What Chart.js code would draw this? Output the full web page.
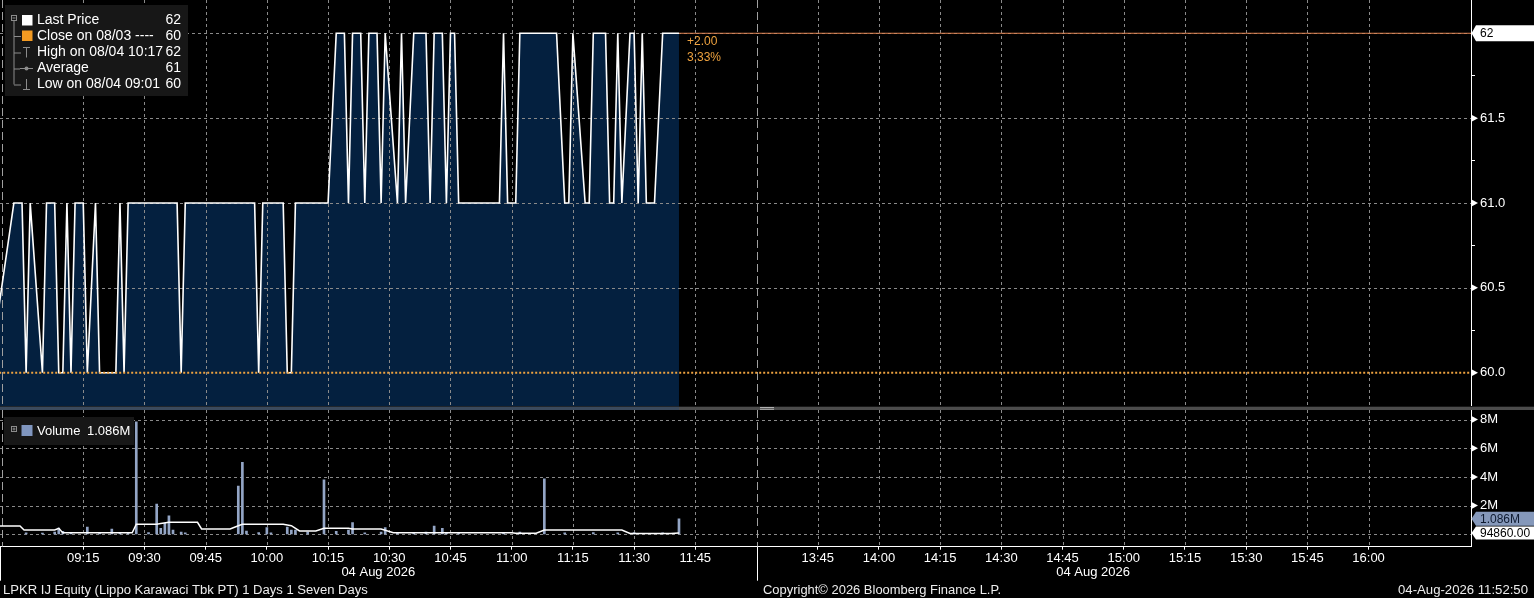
<!DOCTYPE html>
<html><head><meta charset="utf-8">
<script src="https://cdn.jsdelivr.net/npm/chart.js"></script>
<style>
html,body{margin:0;padding:0;background:#000;overflow:hidden;width:1534px;height:598px}
canvas{position:absolute;left:0;display:block}
#priceCanvas{top:0}
#volCanvas{top:406px}
</style></head><body>
<canvas id="priceCanvas" width="1534" height="406"></canvas>
<canvas id="volCanvas" width="1534" height="192"></canvas>
<script>
// ================= DATA =================
// time = trading minutes after 09:00 (lunch break 12:00-13:30 removed)
const PRICE_TIMES = [-8,-2,0,1,2,5,6,8,9,10,11,12,13,15,16,18,19,23,24,25,26,38,39,40,57,58,59,64,65,66,67,75,77,79,80,81,83,84,85,87,88,89,92,93,94,96,99,100,101,103,104,105,106,107,117,118,119,121,122,131,133,134,135,138,139,140,143,144,145,146,147,149,150,151,152,153,155,157,161];
const PRICE_VALUES = [60,61,61,60,61,60,61,61,60,60,61,60,61,61,60,61,60,60,61,60,61,61,60,61,61,60,61,61,60,60,61,61,62,62,61,62,62,61,62,62,61,62,61,62,61,62,62,61,62,62,61,62,62,61,61,62,61,61,62,62,61,61,62,61,61,62,62,61,61,62,61,62,62,61,62,61,61,62,62];

const VOLUME_TIMES = [1,5,8,9,10,12,16,19,22,24,26,28,31,33,34,35,36,37,39,40,53,54,55,58,60,61,65,66,67,70,74,77,80,81,84,88,89,92,96,99,101,103,104,107,118,122,128,133,140,146,150,157,161];
const VOLUME_M = [0.1,0.08,0.15,0.44,0.2,0.1,0.51,0.08,0.37,0.1,0.12,7.85,0.12,2.11,0.42,0.77,1.28,0.3,0.15,0.1,3.37,5.02,0.23,0.12,0.46,0.1,0.51,0.3,0.3,0.15,3.79,0.2,0.3,0.81,0.1,0.15,0.46,0.1,0.12,0.15,0.58,0.42,0.1,0.12,0.1,0.15,3.86,0.1,0.12,0.1,0.12,0.1,1.086];

const VOL_LINE_TIMES = [-8,-0.5,0.5,8,9,10,27,28,33,34,36,43,44,51,53,54,64,66,68,72,74,80,81,88,91,120,121,126,128,147,149,159,161];
const VOL_LINE_M = [0.58,0.58,0.30,0.30,0.42,0.11,0.11,0.70,0.70,0.75,0.84,0.84,0.37,0.37,0.60,0.70,0.70,0.60,0.23,0.23,0.42,0.42,0.37,0.37,0.11,0.11,0.07,0.07,0.30,0.30,0.06,0.06,0.09486];

const TIME_TICKS = [15,30,45,60,75,90,105,120,135,150,165,195,210,225,240,255,270,285,300,315,330];
const TIME_LABELS = ['09:15','09:30','09:45','10:00','10:15','10:30','10:45','11:00','11:15','11:30','11:45','13:45','14:00','14:15','14:30','14:45','15:00','15:15','15:30','15:45','16:00'];
const SESSION_LINES = [-5, 180];
const SESSION_END = 345;

const PRICE_TICKS = [60,60.25,60.5,60.75,61,61.25,61.5,61.75,62];
const PRICE_LABELS = ['60.0','','60.5','','61.0','','61.5','',''];
const PRICE_GRID = [60.5,61,61.5,62];

const VOL_TICKS = [0,1,2,3,4,5,6,7,8];
const VOL_LABELS = ['','','2M','','4M','','6M','','8M'];
const VOL_GRID = [0,2,4,6,8];

const PREV_CLOSE = 60;
const LAST_PRICE = 62;
const LAST_VOLUME_TEXT = '1.086M';
const VOL_AVG_TEXT = '94860.00';

const LEGEND_LABELS = ['Last Price','Close on 08/03 ----','High on 08/04 10:17','Average','Low on 08/04 09:01'];
const LEGEND_VALUES = ['62','60','62','61','60'];
const DATE_LABEL = '04 Aug 2026';
const FOOTER_LEFT = 'LPKR IJ Equity (Lippo Karawaci Tbk PT) 1 Days 1 Seven Days';
const FOOTER_MID = 'Copyright\u00A9 2026 Bloomberg Finance L.P.';
const FOOTER_RIGHT = '04-Aug-2026 11:52:50';

// ================= STYLE / LAYOUT =================
const W = 1534;
const AXIS_W = 63;
const X_MIN = -5.4, X_MAX = 355.1;
const Y_MIN = 59.804, Y_MAX = 62.196;
const VOL_MIN = -0.865, VOL_MAX = 8.668;
const FONT = '"Liberation Sans", Arial, sans-serif';
const NAVY = '#04203f';
const ORANGE = '#eea23f';
const LASTLINE = '#de8250';
const GRID = '#8a8a8a';
const SESSION = '#a0a0a0';
const VOL_BLUE = '#93a5c5';

Chart.defaults.font.family = FONT;
Chart.defaults.font.size = 13;
Chart.defaults.color = '#ffffff';

const pricePts = PRICE_TIMES.map((t,i)=>({x:t,y:PRICE_VALUES[i]}));
const lastT = PRICE_TIMES[PRICE_TIMES.length-1];
const closePts = [{x:X_MIN-10,y:PREV_CLOSE},{x:X_MAX+10,y:PREV_CLOSE}];
const lastPts = [{x:lastT,y:LAST_PRICE},{x:X_MAX+10,y:LAST_PRICE}];
const volPts = VOLUME_TIMES.map((t,i)=>({x:t,y:VOLUME_M[i]}));
const volLinePts = VOL_LINE_TIMES.map((t,i)=>({x:t,y:VOL_LINE_M[i]}));

function drawGrid(chart, yVals){
  const {ctx, chartArea:a, scales:{x,y}} = chart;
  ctx.save();
  ctx.beginPath(); ctx.rect(a.left,a.top,a.right-a.left,a.bottom-a.top); ctx.clip();
  ctx.strokeStyle = GRID; ctx.lineWidth = 1; ctx.setLineDash([3,3]);
  ctx.beginPath();
  TIME_TICKS.forEach(v=>{const px=Math.round(x.getPixelForValue(v))+0.5; ctx.moveTo(px,a.top); ctx.lineTo(px,a.bottom);});
  yVals.forEach(v=>{const py=Math.round(y.getPixelForValue(v))+0.5; ctx.moveTo(a.left,py); ctx.lineTo(a.right,py);});
  ctx.stroke();
  ctx.strokeStyle = SESSION; ctx.setLineDash([8,4]);
  ctx.beginPath();
  SESSION_LINES.forEach(v=>{const px=Math.round(x.getPixelForValue(v))+0.5; ctx.moveTo(px,a.top); ctx.lineTo(px,a.bottom);});
  ctx.stroke();
  ctx.restore();
}
function triangle(ctx, x0, y){
  ctx.beginPath(); ctx.moveTo(x0+0.5,y-3.5); ctx.lineTo(x0+7,y); ctx.lineTo(x0+0.5,y+3.5); ctx.closePath();
  ctx.fillStyle='#ffffff'; ctx.fill();
}
function pointerBox(ctx, x0, y, h, bg, text, color){
  ctx.beginPath(); ctx.moveTo(x0+0.5,y); ctx.lineTo(x0+5,y-h/2); ctx.lineTo(W,y-h/2); ctx.lineTo(W,y+h/2); ctx.lineTo(x0+5,y+h/2); ctx.closePath();
  ctx.fillStyle=bg; ctx.fill();
  ctx.fillStyle=color; ctx.font='12px '+FONT; ctx.textAlign='left'; ctx.textBaseline='middle';
  ctx.fillText(text, x0+9, y+0.5);
}
function fitText(ctx, text, x, y, width, align, color){
  let size = 13;
  ctx.font = size+'px '+FONT;
  const w = ctx.measureText(text).width;
  size = Math.max(10, Math.min(15, size*width/w));
  ctx.font = size.toFixed(2)+'px '+FONT;
  ctx.fillStyle = color; ctx.textAlign = align; ctx.textBaseline='middle';
  ctx.fillText(text, x, y);
}

const pricePlugin = {
  id:'pricePlugin',
  beforeDatasetDraw(chart, args){
    if (args.index === 1) drawGrid(chart, PRICE_GRID);
  },
  afterDraw(chart){
    const {ctx, chartArea:a, scales:{x,y}} = chart;
    ctx.save();
    // legend box
    ctx.fillStyle = '#171717';
    ctx.fillRect(5,5,183,91);
    const rows = [20.5,36,52.5,68.5,84.5];
    ctx.strokeStyle = '#8c8c8c'; ctx.lineWidth = 1;
    ctx.strokeRect(11.5,15.5,5,5);
    ctx.beginPath(); ctx.moveTo(12.5,18); ctx.lineTo(15.5,18);
    ctx.moveTo(14,21); ctx.lineTo(14,rows[4]);
    for (let i=1;i<5;i++){ ctx.moveTo(14,rows[i]+0.5); ctx.lineTo(i===3?20:21,rows[i]+0.5); }
    ctx.moveTo(23,47.5); ctx.lineTo(30,47.5); ctx.moveTo(26.5,47.5); ctx.lineTo(26.5,57.5);
    ctx.moveTo(20,68.5); ctx.lineTo(33,68.5);
    ctx.moveTo(26.5,79); ctx.lineTo(26.5,89.5); ctx.moveTo(23,89.5); ctx.lineTo(30,89.5);
    ctx.stroke();
    ctx.fillStyle='#8c8c8c'; ctx.beginPath(); ctx.arc(26.5,68.5,2,0,Math.PI*2); ctx.fill();
    ctx.fillStyle='#ffffff'; ctx.fillRect(22,15,10.5,10.5);
    ctx.fillStyle='#f39a22'; ctx.fillRect(22,30.5,10.5,10.5);
    ctx.font='14px '+FONT; ctx.textBaseline='middle';
    LEGEND_LABELS.forEach((t,i)=>{
      ctx.fillStyle='#ffffff'; ctx.textAlign='left'; ctx.fillText(t,37,rows[i]);
      ctx.textAlign='right'; ctx.fillText(LEGEND_VALUES[i],181,rows[i]);
    });
    const lx = x.getPixelForValue(lastT);
    const ly = y.getPixelForValue(LAST_PRICE);
    const chg = LAST_PRICE - PREV_CLOSE;
    ctx.font='12px '+FONT; ctx.fillStyle=ORANGE; ctx.textAlign='left';
    ctx.fillText((chg>=0?'+':'')+chg.toFixed(2), lx+8, ly+8.5);
    ctx.fillText((chg/PREV_CLOSE*100).toFixed(2)+'%', lx+8, ly+24);
    PRICE_TICKS.forEach((v,i)=>{ if (PRICE_LABELS[i]) triangle(ctx, a.right, y.getPixelForValue(v)); });
    pointerBox(ctx, a.right, ly, 16, '#ffffff', String(LAST_PRICE), '#000000');
    ctx.restore();
  }
};

new Chart(document.getElementById('priceCanvas'), {
  type:'line',
  data:{datasets:[
    {data:pricePts, borderWidth:0, borderColor:'rgba(0,0,0,0)', backgroundColor:NAVY, fill:'start', pointRadius:0, tension:0, order:4},
    {data:pricePts, borderColor:'#ffffff', borderWidth:1.6, fill:false, pointRadius:0, tension:0, order:3},
    {data:closePts, borderColor:ORANGE, borderDash:[2,2], borderWidth:2, fill:false, pointRadius:0, order:1},
    {data:lastPts, borderColor:LASTLINE, borderWidth:1, fill:false, pointRadius:0, order:2}
  ]},
  options:{
    responsive:false, animation:false, events:[],
    layout:{padding:0, autoPadding:false},
    plugins:{legend:{display:false}, tooltip:{enabled:false}},
    scales:{
      x:{type:'linear', min:X_MIN, max:X_MAX, display:false, offset:false},
      y:{type:'linear', position:'right', min:Y_MIN, max:Y_MAX,
        afterBuildTicks:s=>{s.ticks = PRICE_TICKS.map(v=>({value:v}));},
        afterFit:s=>{s.width = AXIS_W; s.paddingTop=0; s.paddingBottom=0;},
        grid:{drawOnChartArea:false, drawTicks:true, tickLength:4, tickWidth:1,
          tickColor:c=>(c.tick && PRICE_LABELS[c.index]==='' && c.tick.value!==LAST_PRICE) ? '#ffffff' : 'rgba(0,0,0,0)'},
        border:{display:true, color:'#ffffff', width:1},
        ticks:{callback:(v,i)=>PRICE_LABELS[i], padding:5, color:'#ffffff', font:{size:13}}
      }
    }
  },
  plugins:[pricePlugin]
});

const volPlugin = {
  id:'volPlugin',
  beforeDatasetsDraw(chart){ drawGrid(chart, VOL_GRID); },
  afterDraw(chart){
    const {ctx, chartArea:a, scales:{x,y}} = chart;
    ctx.save();
    ctx.fillStyle='#4c4c4c'; ctx.fillRect(0,0.7,W,3.3);
    ctx.fillStyle='#3b4a5d'; ctx.fillRect(0,0.7,x.getPixelForValue(lastT),3.3);
    ctx.strokeStyle='#b0b0b0'; ctx.lineWidth=1;
    ctx.beginPath(); ctx.moveTo(760,1.5); ctx.lineTo(774,1.5); ctx.moveTo(760,3.3); ctx.lineTo(774,3.3); ctx.stroke();
    ctx.fillStyle='#171717'; ctx.fillRect(4,11,130,28);
    ctx.strokeStyle='#8c8c8c'; ctx.strokeRect(11.5,20.5,5,5);
    ctx.beginPath(); ctx.moveTo(12.5,23); ctx.lineTo(15.5,23); ctx.moveTo(14,21.5); ctx.lineTo(14,24.5); ctx.stroke();
    ctx.fillStyle='#8096bf'; ctx.fillRect(21.5,19,11,11);
    ctx.font='13px '+FONT; ctx.fillStyle='#ffffff'; ctx.textAlign='left'; ctx.textBaseline='middle';
    ctx.fillText('Volume',37,25); ctx.fillText(LAST_VOLUME_TEXT,87,25);
    VOL_TICKS.forEach((v,i)=>{ if (VOL_LABELS[i]) triangle(ctx, a.right, y.getPixelForValue(v)); });
    pointerBox(ctx, a.right, y.getPixelForValue(VOLUME_M[VOLUME_M.length-1]), 14, '#8598ba', LAST_VOLUME_TEXT, '#0e1a30');
    pointerBox(ctx, a.right, y.getPixelForValue(VOL_LINE_M[VOL_LINE_M.length-1]), 13, '#ffffff', VOL_AVG_TEXT, '#000000');
    const b = a.bottom;
    const xs = x.getPixelForValue(SESSION_LINES[1]);
    ctx.strokeStyle='#ffffff'; ctx.lineWidth=1;
    ctx.beginPath();
    ctx.moveTo(0.5,b); ctx.lineTo(0.5,b+34);
    ctx.moveTo(Math.round(xs)+0.5,b); ctx.lineTo(Math.round(xs)+0.5,b+34);
    ctx.stroke();
    ctx.font='13px '+FONT; ctx.fillStyle='#ffffff'; ctx.textAlign='center'; ctx.textBaseline='middle';
    ctx.fillText(DATE_LABEL, (a.left+xs)/2, 166);
    ctx.fillText(DATE_LABEL, (xs+x.getPixelForValue(SESSION_END))/2, 166);
    fitText(ctx, FOOTER_LEFT, 3, 184, 365, 'left', '#ececec');
    fitText(ctx, FOOTER_MID, 763, 184, 238, 'left', '#ececec');
    fitText(ctx, FOOTER_RIGHT, 1528, 184, 130, 'right', '#ececec');
    ctx.restore();
  }
};

new Chart(document.getElementById('volCanvas'), {
  type:'bar',
  data:{datasets:[
    {type:'line', data:volLinePts, borderColor:'#ffffff', borderWidth:1.5, fill:false, pointRadius:0, tension:0, order:1},
    {type:'bar', data:volPts, backgroundColor:VOL_BLUE, barThickness:2, grouped:false, order:2}
  ]},
  options:{
    responsive:false, animation:false, events:[],
    layout:{padding:{top:4,left:0,right:0,bottom:0}, autoPadding:false},
    plugins:{legend:{display:false}, tooltip:{enabled:false}},
    scales:{
      x:{type:'linear', position:'bottom', min:X_MIN, max:X_MAX, offset:false,
        afterBuildTicks:s=>{s.ticks = TIME_TICKS.map(v=>({value:v}));},
        afterFit:s=>{s.height = 51.3; s.paddingLeft=0; s.paddingRight=0;},
        grid:{drawOnChartArea:false, drawTicks:true, tickLength:3, tickColor:'#ffffff', offset:false},
        border:{display:true, color:'#ffffff', width:1},
        ticks:{callback:(v,i)=>TIME_LABELS[i], autoSkip:false, maxRotation:0, minRotation:0, padding:1, color:'#ffffff', font:{size:13}}
      },
      y:{type:'linear', position:'right', min:VOL_MIN, max:VOL_MAX,
        afterBuildTicks:s=>{s.ticks = VOL_TICKS.map(v=>({value:v}));},
        afterFit:s=>{s.width = AXIS_W; s.paddingTop=0; s.paddingBottom=0;},
        grid:{drawOnChartArea:false, drawTicks:true, tickLength:4,
          tickColor:c=>(c.tick && VOL_LABELS[c.index]==='' && c.tick.value>0) ? '#ffffff' : 'rgba(0,0,0,0)'},
        border:{display:true, color:'#ffffff', width:1},
        ticks:{callback:(v,i)=>VOL_LABELS[i], padding:5, color:'#ffffff', font:{size:13}}
      }
    }
  },
  plugins:[volPlugin]
});
</script>
</body></html>
